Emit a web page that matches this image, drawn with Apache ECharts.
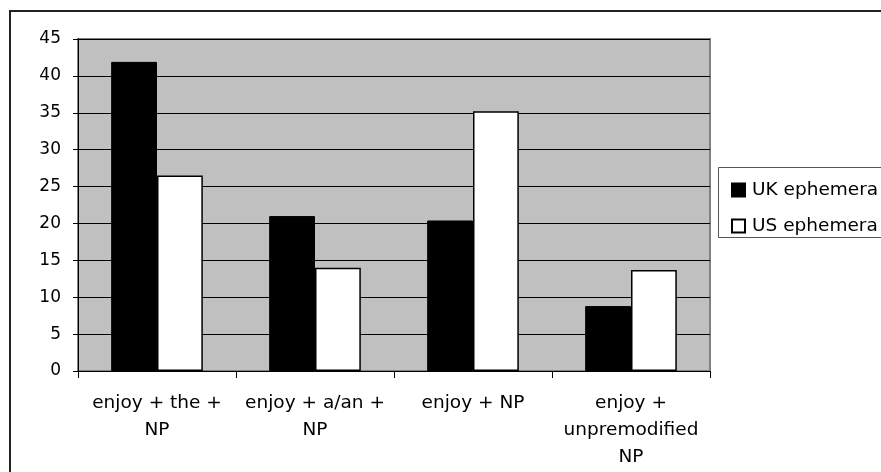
<!DOCTYPE html>
<html>
<head>
<meta charset="utf-8">
<script src="https://cdn.jsdelivr.net/npm/echarts@6/dist/echarts.min.js"></script>
<style>html,body{margin:0;padding:0;background:#fff;}#c{width:881px;height:472px;}</style>
</head>
<body>
<div id="c"></div>
<script>
const categories = ["enjoy + the +\nNP", "enjoy + a/an +\nNP", "enjoy + NP", "enjoy +\nunpremodified\nNP"];
const seriesNames = ["UK ephemera", "US ephemera"];
const ukValues = [41.9, 21.0, 20.4, 8.8];
const usValues = [26.5, 14.0, 35.2, 13.7];
const yTicks = { min: 0, max: 45, interval: 5 };

const chart = echarts.init(document.getElementById('c'), null, { renderer: 'canvas' });
const font = '"DejaVu Sans", sans-serif';
chart.setOption({
  animation: false,
  backgroundColor: '#ffffff',
  textStyle: { fontFamily: font },
  grid: {
    left: 78, top: 39, right: 171, bottom: 101,
    show: true, backgroundColor: '#c0c0c0', borderColor: '#808080', borderWidth: 2
  },
  graphic: [
    { type: 'rect', shape: { x: 10, y: 11, width: 900, height: 500 }, style: { fill: 'none', stroke: '#222', lineWidth: 2 }, z: 0, silent: true },
    { type: 'rect', shape: { x: 718.5, y: 167.5, width: 200, height: 70 }, style: { fill: '#fff', stroke: '#555', lineWidth: 1 }, z: 1, silent: true }
  ],
  legend: {
    data: seriesNames,
    orient: 'vertical',
    left: 726, top: 175,
    icon: 'rect', itemWidth: 13, itemHeight: 13, itemGap: 16,
    textStyle: { fontSize: 18.5, lineHeight: 20, color: '#000', fontFamily: font, padding: [0, 0, 0, 2] },
    z: 5
  },
  xAxis: {
    type: 'category',
    data: categories,
    axisLine: { lineStyle: { color: '#000', width: 1 } },
    axisTick: { show: true, length: 7, lineStyle: { color: '#000' } },
    axisLabel: { color: '#000', fontSize: 18.5, lineHeight: 27, margin: 19, interval: 0, fontFamily: font },
    splitLine: { show: false }
  },
  yAxis: {
    type: 'value',
    min: yTicks.min, max: yTicks.max, interval: yTicks.interval,
    axisLine: { show: true, lineStyle: { color: '#000', width: 1 } },
    axisTick: { show: true, length: 5, lineStyle: { color: '#000' } },
    axisLabel: { color: '#000', fontSize: 17, margin: 17, fontFamily: font },
    splitLine: { show: true, lineStyle: { color: '#000', width: 1 } }
  },
  series: [
    {
      name: seriesNames[0], type: 'bar', data: ukValues,
      barGap: '0%', barCategoryGap: '42%',
      itemStyle: { color: '#000', borderColor: '#000', borderWidth: 1 }
    },
    {
      name: seriesNames[1], type: 'bar', data: usValues,
      barGap: '0%', barCategoryGap: '42%',
      itemStyle: { color: '#fff', borderColor: '#000', borderWidth: 1.5 }
    }
  ]
});
</script>
</body>
</html>
